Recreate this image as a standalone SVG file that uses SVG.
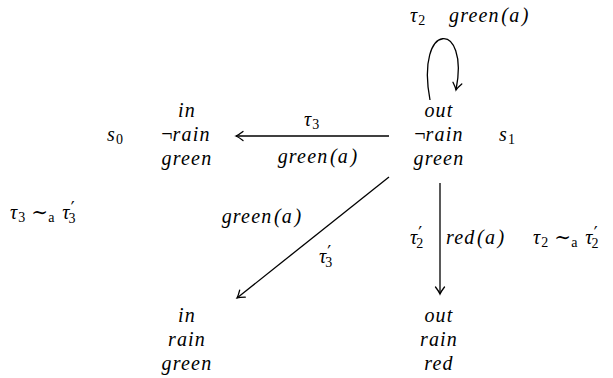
<svg xmlns="http://www.w3.org/2000/svg" width="613" height="378" viewBox="0 0 613 378" font-family="'Liberation Serif', 'Times New Roman', 'DejaVu Serif', serif">
<defs>
<style>
text{font-family:'Liberation Serif','Times New Roman','DejaVu Serif',serif;font-size:20px;font-style:italic;fill:#000;letter-spacing:1.2px}
.m{text-anchor:middle}
.up{font-style:normal;letter-spacing:0}
.sub{font-size:14px;font-style:normal;letter-spacing:0}
.pr{font-family:'DejaVu Sans',sans-serif;font-size:17px;font-style:normal;letter-spacing:0}
.edge{fill:none;stroke:#000;stroke-width:1.3;marker-end:url(#ah)}
</style>
<marker id="ah" markerWidth="12" markerHeight="12" viewBox="-8 -6 10 12" refX="0" refY="0" orient="auto" markerUnits="userSpaceOnUse">
<path d="M-7,-4.5 Q-2.5,-1 0,0 Q-2.5,1 -7,4.5" fill="none" stroke="#000" stroke-width="1.3" stroke-linecap="round"/>
</marker>
</defs>
<rect width="613" height="378" fill="#fff"/>

<g id="s0">
<text class="m" x="187" y="117">in</text>
<text class="m" x="186" y="141"><tspan class="up">¬</tspan>rain</text>
<text class="m" x="187" y="165">green</text>
<text x="107" y="141">s<tspan class="sub" dy="3">0</tspan></text>
</g>

<g id="s1">
<text class="m" x="439" y="117">out</text>
<text class="m" x="439" y="141"><tspan class="up">¬</tspan>rain</text>
<text class="m" x="439" y="165">green</text>
<text x="499" y="141">s<tspan class="sub" dy="3">1</tspan></text>
</g>

<g id="s2">
<text class="m" x="187" y="322">in</text>
<text class="m" x="187" y="346">rain</text>
<text class="m" x="187" y="370">green</text>
</g>

<g id="s3">
<text class="m" x="439" y="322">out</text>
<text class="m" x="439" y="346">rain</text>
<text class="m" x="439" y="370">red</text>
</g>

<g id="connectors">
<path class="edge" d="M430,100 C415,20 470,20 456,90"/>
<path class="edge" d="M389,136 L236,136"/>
<path class="edge" d="M389,177 L237,298"/>
<path class="edge" d="M440,183 L440,294"/>
</g>

<g id="labels">
<text x="410" y="22">τ<tspan class="sub" dy="3">2</tspan></text>
<text x="449" y="22">green<tspan dx="1.5">(a</tspan><tspan dx="1.5">)</tspan></text>
<text x="304" y="126">τ<tspan class="sub" dy="3">3</tspan></text>
<text class="m" x="318" y="163">green<tspan dx="1.5">(a</tspan><tspan dx="1.5">)</tspan></text>
<text class="m" x="262" y="223">green<tspan dx="1.5">(a</tspan><tspan dx="1.5">)</tspan></text>
<text x="319" y="263">τ<tspan class="pr" dy="-5">′</tspan><tspan class="sub" dx="-6" dy="9">3</tspan></text>
<text x="410" y="244">τ<tspan class="pr" dy="-5">′</tspan><tspan class="sub" dx="-6" dy="9">2</tspan></text>
<text x="446" y="244">red<tspan dx="1.5">(a</tspan><tspan dx="1.5">)</tspan></text>
<text x="10" y="219">τ<tspan class="sub" dy="3">3</tspan><tspan class="up" dy="-3" dx="6">∼</tspan><tspan class="sub" dy="3">a</tspan><tspan dy="-3" dx="8">τ</tspan><tspan class="pr" dy="-5">′</tspan><tspan class="sub" dx="-6" dy="9">3</tspan></text>
<text x="533" y="244">τ<tspan class="sub" dy="3">2</tspan><tspan class="up" dy="-3" dx="6">∼</tspan><tspan class="sub" dy="3">a</tspan><tspan dy="-3" dx="8">τ</tspan><tspan class="pr" dy="-5">′</tspan><tspan class="sub" dx="-6" dy="9">2</tspan></text>
</g>
</svg>
